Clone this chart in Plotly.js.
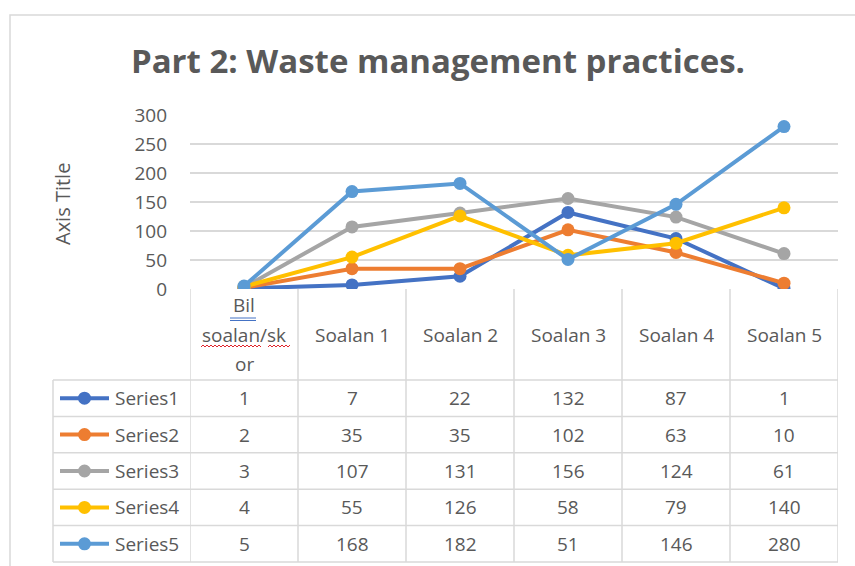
<!DOCTYPE html>
<html>
<head>
<meta charset="utf-8">
<script src="https://cdn.plot.ly/plotly-3.0.1.min.js"></script>
<style>html,body{margin:0;padding:0;background:#fff;}#chart{width:855px;height:566px;}</style>
</head>
<body>
<div id="chart"></div>
<script>
// ---- data ----
const categories = ["Bil soalan/skor", "Soalan 1", "Soalan 2", "Soalan 3", "Soalan 4", "Soalan 5"];
const headerLabels = ["Bil<br>soalan/sk<br>or", "Soalan 1", "Soalan 2", "Soalan 3", "Soalan 4", "Soalan 5"];
const seriesNames = ["Series1", "Series2", "Series3", "Series4", "Series5"];
const series1 = [1, 7, 22, 132, 87, 1];
const series2 = [2, 35, 35, 102, 63, 10];
const series3 = [3, 107, 131, 156, 124, 61];
const series4 = [4, 55, 126, 58, 79, 140];
const series5 = [5, 168, 182, 51, 146, 280];
const yTicks = [0, 50, 100, 150, 200, 250, 300];
const titleText = "Part 2: Waste management practices.";
const yTitleText = "Axis Title";

// ---- styles ----
const colors = ["#4472C4", "#ED7D31", "#A5A5A5", "#FFC000", "#5B9BD5"];
const allSeries = [series1, series2, series3, series4, series5];
const W = 855, H = 566;
const FONT = "Open Sans, Liberation Sans, sans-serif";
const TXT = "#595959";
const GRID = "#D9D9D9";
const FS = 19;
const plotL = 190, plotR = 838, plotT = 115, plotB = 289;
const px = v => v / W;
const py = v => 1 - v / H;
const headerBottom = 380;
const rowH = 36.4;
const legendLeft = 53;

const traces = allSeries.map((vals, i) => ({
  type: "scatter",
  mode: "lines+markers",
  name: seriesNames[i],
  x: categories,
  y: vals,
  line: {color: colors[i], width: 4},
  marker: {color: colors[i], size: 13},
  showlegend: false,
  hoverinfo: "x+y+name"
}));

const shapes = [];
const annotations = [];

// chart frame
shapes.push({type: "rect", xref: "paper", yref: "paper", x0: px(10), x1: px(W + 20), y0: py(H + 20), y1: py(15),
  line: {color: GRID, width: 1.5}, fillcolor: "rgba(0,0,0,0)", layer: "below"});

// table vertical lines (category borders)
for (let i = 0; i <= categories.length; i++) {
  shapes.push({type: "line", xref: "x", yref: "paper", x0: i - 0.5, x1: i - 0.5,
    y0: py(plotB), y1: py(headerBottom + rowH * seriesNames.length), line: {color: GRID, width: 1.5}});
}
// legend column left border
shapes.push({type: "line", xref: "paper", yref: "paper", x0: px(legendLeft), x1: px(legendLeft),
  y0: py(headerBottom), y1: py(headerBottom + rowH * seriesNames.length), line: {color: GRID, width: 1.5}});
// horizontal lines
for (let r = 0; r <= seriesNames.length; r++) {
  const yy = headerBottom + rowH * r;
  shapes.push({type: "line", xref: "paper", yref: "paper", x0: px(legendLeft), x1: px(plotR),
    y0: py(yy), y1: py(yy), line: {color: GRID, width: 1.5}});
}

// header labels (each line placed separately for Excel-like line spacing)
const headerMid = (plotB + headerBottom) / 2;
const lineGap = 29;
headerLabels.forEach((lab, i) => {
  const lines = lab.split("<br>");
  lines.forEach((ln, k) => {
    const yy = headerMid + (k - (lines.length - 1) / 2) * lineGap;
    annotations.push({xref: "x", yref: "paper", x: i, y: py(yy),
      text: ln, showarrow: false, font: {family: FONT, size: FS, color: TXT},
      xanchor: "center", yanchor: "middle", align: "center"});
  });
});
// spell-check underlines under first header
shapes.push({type: "line", xref: "paper", yref: "paper", x0: px(230), x1: px(256), y0: py(318), y1: py(318), line: {color: "#4472C4", width: 1}});
shapes.push({type: "line", xref: "paper", yref: "paper", x0: px(230), x1: px(256), y0: py(320.5), y1: py(320.5), line: {color: "#4472C4", width: 1}});
(function () {
  let p = "";
  const segs = [[201, 262], [268, 290]];
  segs.forEach(([a, b]) => {
    let up = true;
    p += "M" + px(a) + "," + py(347);
    for (let x = a + 2; x <= b; x += 2) {
      p += " L" + px(x) + "," + py(up ? 345 : 347);
      up = !up;
    }
    p += " ";
  });
  shapes.push({type: "path", xref: "paper", yref: "paper", path: p.trim(), line: {color: "#E0242B", width: 1}});
})();

// rows
seriesNames.forEach((nm, r) => {
  const cy = headerBottom + rowH * (r + 0.5);
  shapes.push({type: "line", xref: "paper", yref: "paper", x0: px(60), x1: px(109), y0: py(cy), y1: py(cy),
    line: {color: colors[r], width: 4}});
  shapes.push({type: "circle", xref: "paper", yref: "paper", x0: px(78), x1: px(91), y0: py(cy + 6.5), y1: py(cy - 6.5),
    line: {color: colors[r], width: 0}, fillcolor: colors[r]});
  annotations.push({xref: "paper", yref: "paper", x: px(113), y: py(cy), text: nm, showarrow: false,
    font: {family: FONT, size: FS, color: TXT}, xanchor: "left", yanchor: "middle"});
  allSeries[r].forEach((v, i) => {
    annotations.push({xref: "x", yref: "paper", x: i, y: py(cy), text: String(v), showarrow: false,
      font: {family: FONT, size: FS, color: TXT}, xanchor: "center", yanchor: "middle"});
  });
});

// y-axis title
annotations.push({xref: "paper", yref: "paper", x: px(62), y: py(204), text: yTitleText, textangle: -90,
  showarrow: false, font: {family: FONT, size: 20, color: TXT}, xanchor: "center", yanchor: "middle"});

const layout = {
  width: W, height: H,
  margin: {l: 0, r: 0, t: 0, b: 0},
  paper_bgcolor: "#fff", plot_bgcolor: "#fff",
  title: {text: "<b>" + titleText + "</b>", font: {family: FONT, size: 33, color: TXT},
    x: px(438), xanchor: "center", xref: "paper", y: py(61), yanchor: "middle", yref: "container"},
  xaxis: {domain: [px(plotL), px(plotR)], type: "category", range: [-0.5, categories.length - 0.5],
    showticklabels: false, showgrid: false, zeroline: false, showline: false, ticks: "", fixedrange: true},
  yaxis: {domain: [py(plotB), py(plotT)], range: [0, 300], tickvals: yTicks, ticktext: yTicks.map(String),
    showgrid: true, gridcolor: GRID, gridwidth: 1.5, zeroline: false, showline: false, ticks: "",
    ticklabelstandoff: 22, tickfont: {family: FONT, size: FS, color: TXT}, fixedrange: true},
  shapes: shapes,
  annotations: annotations,
  showlegend: false
};

Plotly.newPlot("chart", traces, layout, {displayModeBar: false, staticPlot: true});
</script>
</body>
</html>
